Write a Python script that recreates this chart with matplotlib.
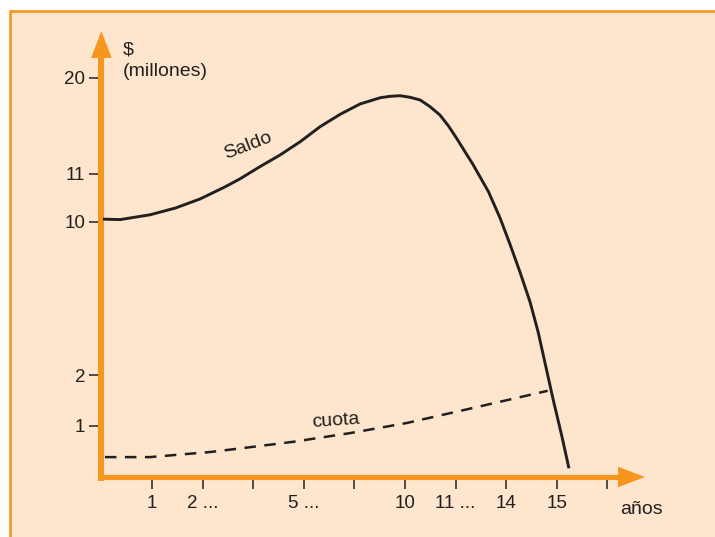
import numpy as np
import matplotlib
matplotlib.use("Agg")
import matplotlib.pyplot as plt
from matplotlib.patches import Rectangle
from matplotlib.transforms import ScaledTranslation

plt.rcParams["font.family"] = ["Liberation Sans", "DejaVu Sans"]

# ---- data -------------------------------------------------------------
# balance ("Saldo") and instalment ("cuota"), in millions, over years
saldo_x = [0.03, 0.37, 0.96, 1.46, 1.95, 2.44, 2.74, 3.13, 3.53, 3.93, 4.32,
           4.72, 5.11, 5.51, 5.70, 5.90, 6.10, 6.30, 6.49, 6.69, 6.86, 7.02,
           7.35, 7.65, 7.88, 8.08, 8.27, 8.47, 8.63, 8.80, 8.93, 9.10, 9.24]
saldo_y = [10.06, 10.05, 10.15, 10.29, 10.48, 10.73, 10.90, 11.68, 12.78,
           14.03, 15.43, 16.60, 17.56, 18.15, 18.28, 18.34, 18.19, 17.94,
           17.33, 16.53, 15.50, 14.35, 11.84, 10.63, 10.08, 8.80, 7.40, 5.83,
           4.26, 2.24, 1.51, 0.80, 0.17]

cuota_x = [0.07, 0.96, 2.15, 2.74, 3.79, 4.91, 6.04, 7.15, 8.82]
cuota_y = [0.39, 0.39, 0.49, 0.56, 0.69, 0.86, 1.06, 1.31, 1.69]

x_ticks = [1, 2, 3, 4, 5, 6, 7, 8, 9, 10]
x_labels = ["1", "2 ...", "", "5 ...", "", "10", "11 ...", "14", "15", ""]
y_ticks = [1, 2, 10, 11, 20]
y_labels = ["1", "2", "10", "11", "20"]

# broken (piecewise-linear) value axis
scale_vals = [0, 1, 2, 10, 11, 20, 30]
scale_pos = [0, 51, 102, 255, 303, 399, 505.7]

# ---- style ------------------------------------------------------------
BG = "#FDE6CD"
ORANGE = "#F7961F"
INK = "#231F20"
FS_TICK = 13.5
FS = 14

W, H = 715, 537
fig = plt.figure(figsize=(W / 100, H / 100), dpi=100, facecolor="white")

# framed panel
fig.patches.append(Rectangle((9.5 / W, -0.05), 1.2, (H - 10.5) / H + 0.05,
                             transform=fig.transFigure, facecolor=BG,
                             edgecolor=ORANGE, lw=1.9, zorder=-5))

ax_l, ax_b = 101.4, 60
ax_w, ax_h = 645 - 101.4, 446
ax = fig.add_axes([ax_l / W, ax_b / H, ax_w / W, ax_h / H])
ax.set_zorder(1)
ax.patch.set_visible(False)
for s in ax.spines.values():
    s.set_visible(False)


def fwd(v):
    return np.interp(v, scale_vals, scale_pos)


def inv(p):
    return np.interp(p, scale_pos, scale_vals)


ax.set_yscale("function", functions=(fwd, inv))
ax.set_xlim(0, ax_w / 50.6)
ax.set_ylim(0, inv(ax_h))

# curves
ax.plot(saldo_x, saldo_y, color=INK, lw=2.1, solid_capstyle="butt",
        solid_joinstyle="round", zorder=4)
ax.plot(cuota_x, cuota_y, color=INK, lw=1.8, linestyle=(0, (4.6, 3.4)),
        zorder=4)

# ticks
ax.set_xticks(x_ticks)
ax.set_xticklabels(x_labels)
ax.set_yticks(y_ticks)
ax.set_yticklabels(y_labels)
ax.minorticks_off()
ax.tick_params(axis="both", colors=INK, labelcolor=INK, labelsize=FS_TICK,
               width=1.1, length=8.8, direction="out")
ax.tick_params(axis="x", pad=4)
ax.tick_params(axis="y", pad=3)

# orange axes with arrowheads
ex = 3.5 / ax_w
ey = 3.5 / ax_h
ax.plot([-ex, 1 - 20 / ax_w], [0, 0], transform=ax.transAxes, color=ORANGE,
        lw=3.7, clip_on=False, zorder=3, solid_capstyle="butt")
ax.plot([0, 0], [-ey, 1 - 20 / ax_h], transform=ax.transAxes, color=ORANGE,
        lw=4.3, clip_on=False, zorder=3, solid_capstyle="butt")
head = dict(arrowstyle="-|>,head_length=19.4,head_width=7.4", mutation_scale=1,
            lw=0, fc=ORANGE, ec=ORANGE, shrinkA=0, shrinkB=0)
ax.annotate("", xy=(1, 0), xytext=(0.9, 0), xycoords="axes fraction",
            arrowprops=head, annotation_clip=False, zorder=3)
ax.annotate("", xy=(0, 1), xytext=(0, 0.9), xycoords="axes fraction",
            arrowprops=head, annotation_clip=False, zorder=3)

# axis titles
ax.text(0.43, inv(427), r"\$", color=INK, fontsize=FS, ha="left", va="center")
ax.text(0.43, inv(405), "(millones)", color=INK, fontsize=FS, ha="left",
        va="center")
ax.text(10.25, 0, "años", color=INK, fontsize=FS, ha="left", va="center",
        transform=ax.transData + ScaledTranslation(0, -33 / 100,
                                                   fig.dpi_scale_trans),
        clip_on=False)

# curve labels
ax.text(2.9, 13.6, "Saldo", color=INK, fontsize=FS, rotation=21,
        ha="center", va="center", rotation_mode="anchor")
ax.text(4.64, 1.1, "cuota", color=INK, fontsize=FS, rotation=4,
        ha="center", va="center", rotation_mode="anchor")

fig.savefig("out.png", dpi=100, facecolor="white")
